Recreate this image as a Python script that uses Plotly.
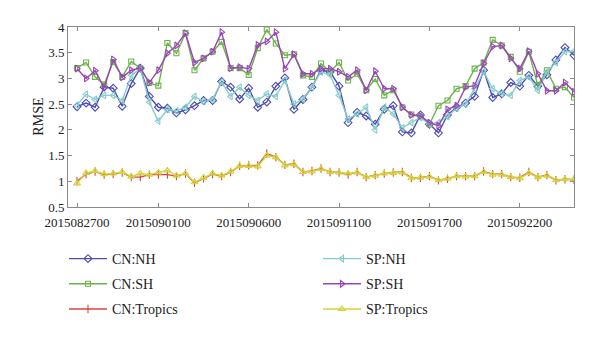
import plotly.graph_objects as go

idx = list(range(56))
tick_pos = [0, 9, 19, 29, 39, 49]
tick_labels = ["2015082700", "2015090100", "2015090600", "2015091100", "2015091700", "2015092200"]

cn_nh = [2.45, 2.52, 2.44, 2.83, 2.81, 2.46, 2.90, 3.20, 2.65, 2.44, 2.42, 2.33, 2.39, 2.47, 2.57, 2.57, 2.94, 2.83, 2.60,
         2.81, 2.44, 2.54, 2.85, 3.01, 2.40, 2.59, 2.83, 3.16, 3.13, 2.85, 2.14, 2.34, 2.27, 2.11, 2.40, 2.47, 1.96,
         1.94, 2.29, 2.11, 1.94, 2.29, 2.44, 2.52, 2.65, 3.16, 2.63, 2.70, 2.92, 2.85, 3.06, 2.85, 3.07, 3.36, 3.60, 3.45]
sp_nh = [2.48, 2.69, 2.59, 2.67, 2.67, 2.57, 3.06, 3.19, 2.54, 2.17, 2.40, 2.37, 2.44, 2.65, 2.55, 2.59, 2.93, 2.65, 2.83,
         2.67, 2.57, 2.70, 2.65, 2.96, 2.50, 2.60, 2.83, 3.13, 3.07, 2.67, 2.21, 2.31, 2.44, 2.00, 2.44, 2.31, 2.04,
         2.14, 2.24, 2.11, 2.14, 2.26, 2.42, 2.50, 2.80, 3.13, 2.80, 2.70, 2.67, 2.96, 3.03, 2.77, 3.13, 3.31, 3.52, 3.53]
cn_sh = [3.20, 3.31, 3.03, 2.88, 3.32, 3.03, 3.33, 3.20, 2.91, 2.86, 3.69, 3.49, 3.88, 3.16, 3.39, 3.52, 3.71, 3.20, 3.20,
         3.07, 3.59, 3.95, 3.68, 3.45, 3.47, 3.06, 3.03, 3.29, 3.13, 3.31, 2.96, 3.09, 2.77, 2.99, 2.67, 2.77, 2.44,
         2.30, 2.26, 2.11, 2.47, 2.57, 2.80, 2.85, 3.19, 3.31, 3.75, 3.64, 3.42, 3.13, 3.52, 2.86, 3.16, 2.80, 2.83, 2.63]
sp_sh = [3.19, 3.00, 3.15, 2.82, 3.37, 3.02, 3.16, 3.20, 2.92, 3.16, 3.49, 3.64, 3.88, 3.31, 3.39, 3.52, 3.90, 3.20, 3.22,
         3.19, 3.65, 3.72, 3.90, 3.19, 3.47, 3.09, 3.09, 3.19, 3.19, 3.13, 3.03, 3.16, 2.77, 3.14, 2.80, 2.80, 2.44,
         2.29, 2.27, 2.14, 2.08, 2.40, 2.47, 2.83, 2.86, 3.29, 3.62, 3.64, 3.39, 3.19, 3.53, 3.09, 2.76, 2.76, 2.92, 2.74]
cn_tr = [1.00, 1.14, 1.19, 1.13, 1.14, 1.17, 1.08, 1.08, 1.13, 1.13, 1.13, 1.10, 1.15, 0.97, 1.06, 1.14, 1.10, 1.18, 1.30,
         1.31, 1.31, 1.54, 1.47, 1.32, 1.34, 1.18, 1.20, 1.25, 1.18, 1.17, 1.13, 1.18, 1.08, 1.12, 1.15, 1.17, 1.18,
         1.07, 1.07, 1.10, 1.02, 1.05, 1.10, 1.10, 1.10, 1.19, 1.14, 1.14, 1.08, 1.07, 1.18, 1.08, 1.12, 1.02, 1.04, 1.03]
sp_tr = [0.96, 1.16, 1.20, 1.14, 1.15, 1.18, 1.09, 1.15, 1.13, 1.17, 1.21, 1.11, 1.15, 0.98, 1.07, 1.15, 1.11, 1.19, 1.30,
         1.30, 1.29, 1.50, 1.47, 1.31, 1.33, 1.18, 1.19, 1.24, 1.18, 1.17, 1.15, 1.17, 1.08, 1.11, 1.15, 1.16, 1.17,
         1.06, 1.07, 1.09, 1.02, 1.05, 1.10, 1.09, 1.10, 1.18, 1.13, 1.13, 1.08, 1.06, 1.16, 1.08, 1.11, 1.02, 1.04, 1.04]

series = [
    ("CN:NH", cn_nh, "#4b4bb5", "diamond-open", 6, "legend"),
    ("CN:SH", cn_sh, "#6cb24a", "square-open", 5, "legend"),
    ("CN:Tropics", cn_tr, "#d8453c", "line-ns-open", 6, "legend"),
    ("SP:NH", sp_nh, "#86cccc", "triangle-left-open", 6, "legend2"),
    ("SP:SH", sp_sh, "#9a46b4", "triangle-right-open", 6, "legend2"),
    ("SP:Tropics", sp_tr, "#d6d23a", "triangle-up-open", 6, "legend2"),
]

fig = go.Figure()
for name, vals, color, sym, size, leg in series:
    fig.add_trace(go.Scatter(
        x=idx, y=vals, name=name, mode="lines+markers", legend=leg, legendgroup=name,
        line=dict(color=color, width=1.4),
        marker=dict(symbol=sym, size=size, color=color, line=dict(color=color, width=1.1)),
    ))

axis_common = dict(showline=True, linecolor="#8a8a8a", linewidth=1, mirror="ticks",
                   ticks="inside", ticklen=4, tickcolor="#8a8a8a", showgrid=False, zeroline=False,
                   tickfont=dict(family="Liberation Serif", size=13, color="#222"))

leg_common = dict(xref="container", yref="container", xanchor="left", yanchor="top",
                  traceorder="grouped", tracegroupgap=4, itemwidth=38,
                  font=dict(size=14), bgcolor="rgba(0,0,0,0)")

fig.update_layout(
    width=600, height=337,
    margin=dict(l=68, r=26, t=27, b=130, autoexpand=False),
    paper_bgcolor="white", plot_bgcolor="white",
    font=dict(family="Liberation Serif", size=13, color="#222"),
    xaxis=dict(range=[-1, 55], tickmode="array", tickvals=tick_pos, ticktext=tick_labels,
               tickangle=0, automargin=False, ticklabelstandoff=3, **axis_common),
    yaxis=dict(range=[0.5, 4], dtick=0.5, automargin=False, **axis_common),
    legend=dict(x=64/600, y=1 - 243/337, **leg_common),
    legend2=dict(x=318/600, y=1 - 243/337, **leg_common),
    showlegend=True,
    annotations=[dict(text="RMSE", textangle=-90, xref="paper", yref="paper",
                      x=-0.06, y=0.5, xanchor="center", yanchor="middle", showarrow=False,
                      font=dict(family="Liberation Serif", size=14, color="#222"))],
)

fig.write_html("out.html")
